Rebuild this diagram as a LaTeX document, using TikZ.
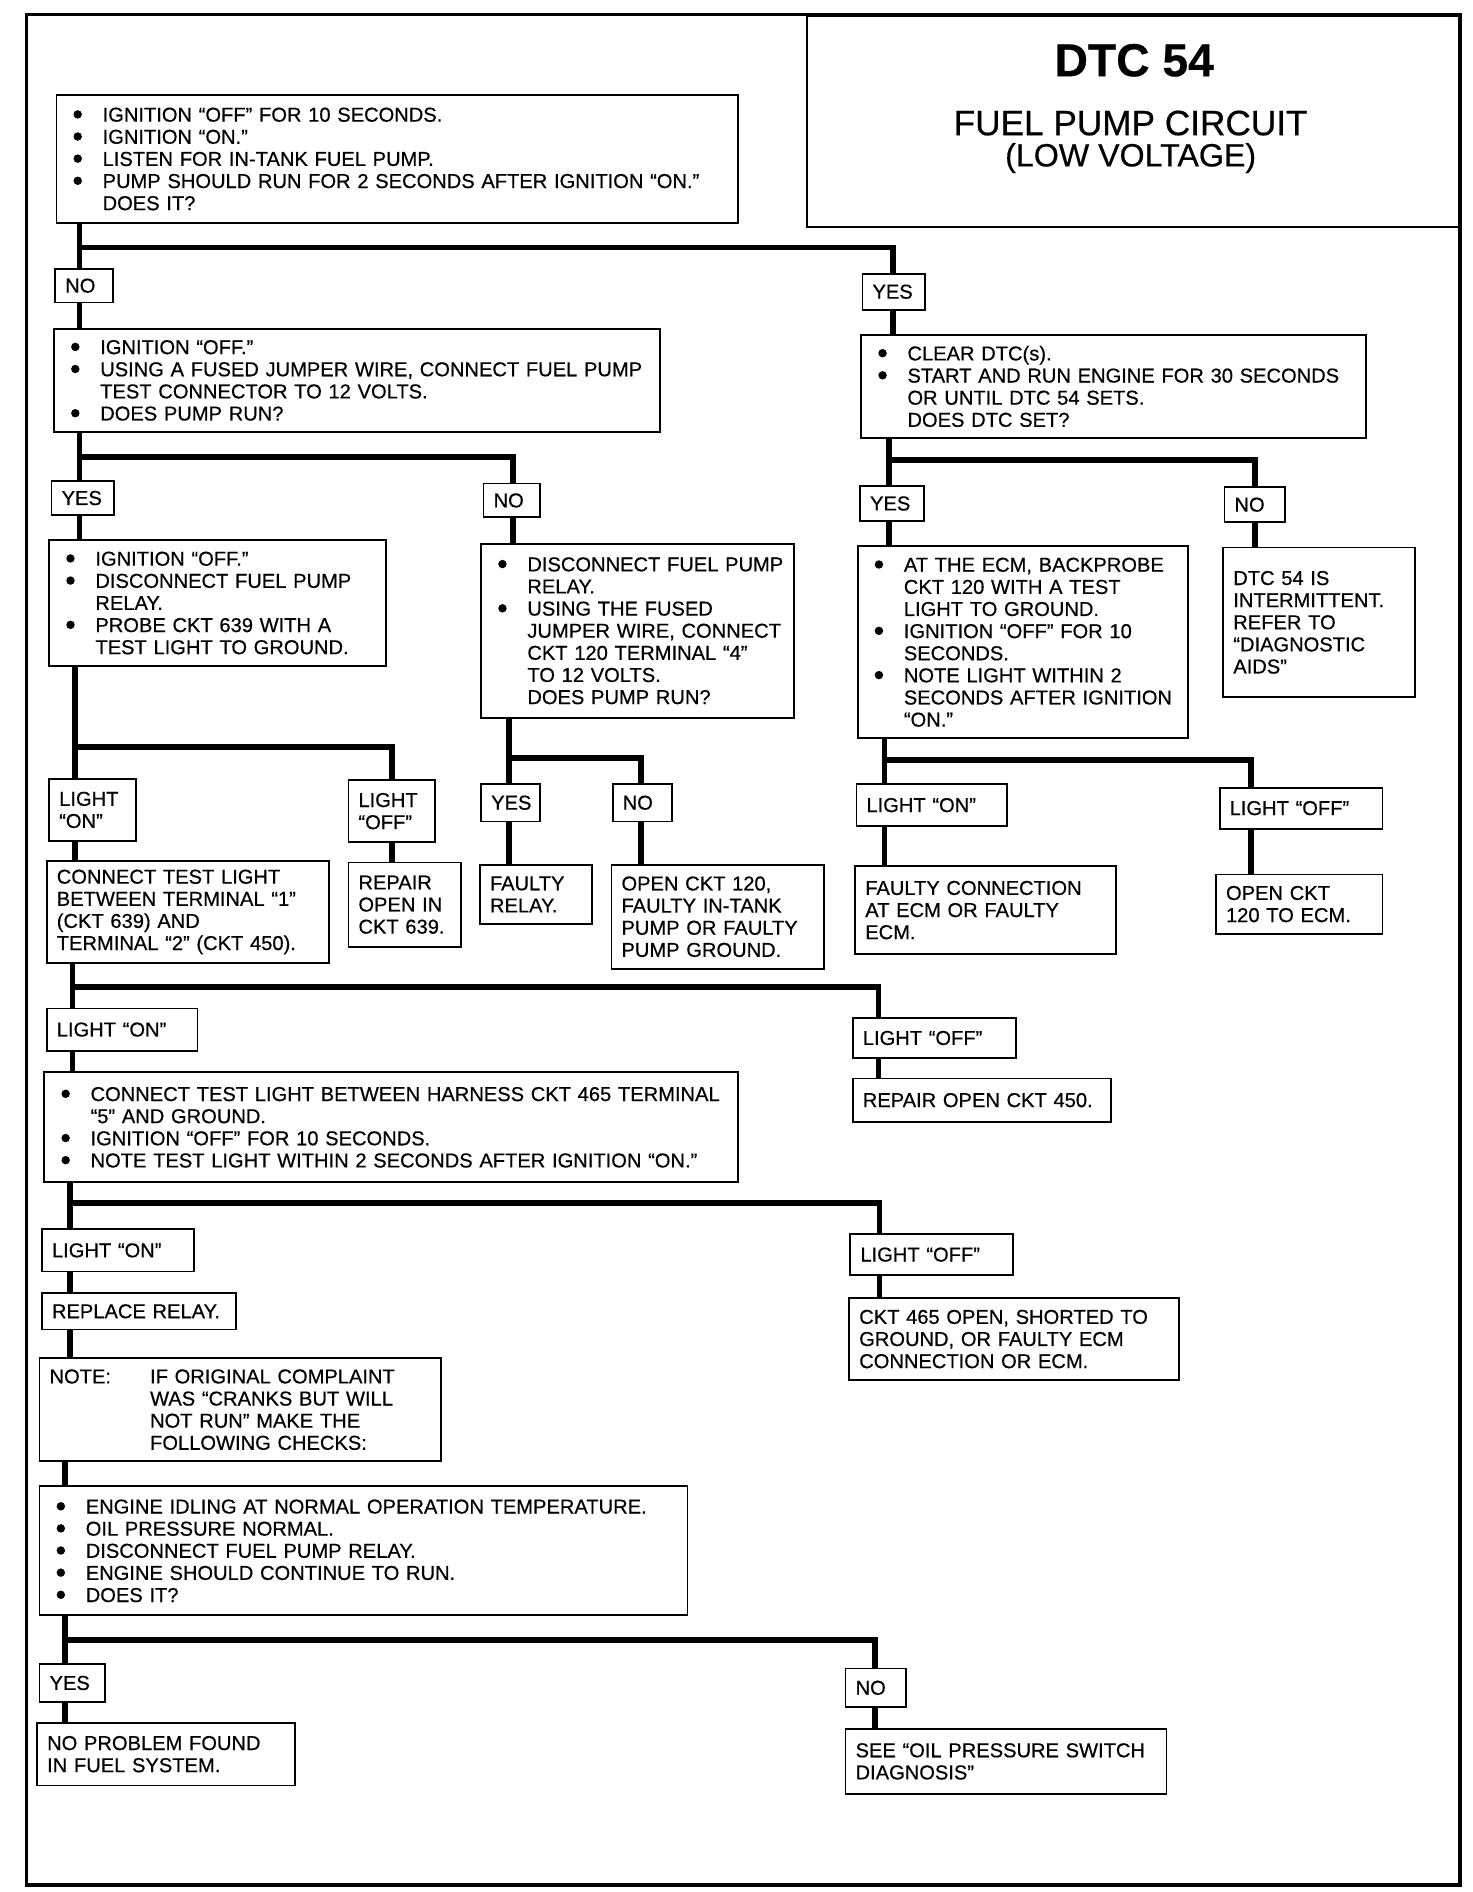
\documentclass[tikz,border=0pt]{standalone}
\usepackage{fontspec}
\setmainfont{Liberation Sans}[FakeBold=0.5]
\newcommand\bl{\makebox[18pt][l]{\hspace{3.5pt}\tikz[baseline=-3.6pt]\fill[black] (0,0) circle[radius=2.1pt];}}
\newcommand\ind{\hspace*{18pt}}
\newcommand\noteind{\hspace*{50pt}}
\begin{document}
\begin{tikzpicture}[x=0.6pt,y=-0.6pt,
  bx/.style 2 args={draw, line width=0.9pt, fill=white, anchor=north west,
    inner xsep=0pt, inner ysep=0pt, minimum width=#1*0.6pt, minimum height=#2*0.6pt,
    text width=#1*0.6pt-10pt, align=left, font=\fontsize{10}{11}\selectfont},
  conn/.style={line width=2.8pt, line join=miter}]
\useasboundingbox (0,0) rectangle (1220,1568);
% title
\node[draw, line width=1.2pt, anchor=north west, minimum width=542*0.6pt, minimum height=175*0.6pt, inner sep=0pt] (title) at (668,12) {};
\node[font=\bfseries\fontsize{23}{26}\selectfont] (t1) at (940,50) {DTC 54};
\node[font=\fontsize{17.5}{20}\selectfont] (t2) at (937,102) {FUEL PUMP CIRCUIT};
\node[font=\fontsize{16}{19}\selectfont] (t3) at (937,131) {(LOW VOLTAGE)};
\draw[line width=1.8pt] (22,12) rectangle (1210,1562);

% boxes
\node[bx={565}{106}] (b1) at (46,78) {\bl IGNITION “OFF” FOR 10 SECONDS.\\\bl IGNITION “ON.”\\\bl LISTEN FOR IN-TANK FUEL PUMP.\\\bl PUMP SHOULD RUN FOR 2 SECONDS AFTER IGNITION “ON.”\\\ind DOES IT?};
\node[bx={48}{28}] (no1) at (45,222) {NO};
\node[bx={52}{30}] (yes1) at (714,226) {YES};
\node[bx={502}{85}] (b2) at (44,272) {\bl IGNITION “OFF.”\\\bl USING A FUSED JUMPER WIRE, CONNECT FUEL PUMP\\\ind TEST CONNECTOR TO 12 VOLTS.\\\bl DOES PUMP RUN?};
\node[bx={418}{85}] (bR1) at (713,277) {\bl CLEAR DTC(s).\\\bl START AND RUN ENGINE FOR 30 SECONDS\\\ind OR UNTIL DTC 54 SETS.\\\ind DOES DTC SET?};

\node[bx={52}{28}] (yes2) at (42,398) {YES};
\node[bx={47}{28}] (no2) at (400,400) {NO};
\node[bx={279}{104}] (bL2) at (40,447) {\bl IGNITION “OFF.”\\\bl DISCONNECT FUEL PUMP\\\ind RELAY.\\\bl PROBE CKT 639 WITH A\\\ind TEST LIGHT TO GROUND.};
\node[bx={259}{144}] (bM2) at (398,450) {\bl DISCONNECT FUEL PUMP\\\ind RELAY.\\\bl USING THE FUSED\\\ind JUMPER WIRE, CONNECT\\\ind CKT 120 TERMINAL “4”\\\ind TO 12 VOLTS.\\\ind DOES PUMP RUN?};

\node[bx={53}{29}] (yes3) at (712,402) {YES};
\node[bx={50}{29}] (no3) at (1014,403) {NO};
\node[bx={274}{159}] (bR2) at (710,452) {\bl AT THE ECM, BACKPROBE\\\ind CKT 120 WITH A TEST\\\ind LIGHT TO GROUND.\\\bl IGNITION “OFF” FOR 10\\\ind SECONDS.\\\bl NOTE LIGHT WITHIN 2\\\ind SECONDS AFTER IGNITION\\\ind “ON.”};
\node[bx={159}{124}] (bR3) at (1013,453) {DTC 54 IS\\INTERMITTENT.\\REFER TO\\“DIAGNOSTIC\\AIDS”};

\node[bx={72}{51}] (lon1) at (40,645) {LIGHT\\“ON”};
\node[bx={72}{51}] (loff1) at (288,646) {LIGHT\\“OFF”};
\node[bx={234}{84}] (bL3) at (38,713) {CONNECT TEST LIGHT\\BETWEEN TERMINAL “1”\\(CKT 639) AND\\TERMINAL “2” (CKT 450).};
\node[bx={93}{70}] (bL3b) at (288,714) {REPAIR\\OPEN IN\\CKT 639.};

\node[bx={49}{31}] (yes4) at (398,649) {YES};
\node[bx={49}{31}] (no4) at (507,649) {NO};
\node[bx={93}{49}] (bFR) at (397,716) {FAULTY\\RELAY.};
\node[bx={176}{86}] (bOC) at (506,716) {OPEN CKT 120,\\FAULTY IN-TANK\\PUMP OR FAULTY\\PUMP GROUND.};

\node[bx={125}{35}] (lonR) at (709,649) {LIGHT “ON”};
\node[bx={135}{34}] (loffR) at (1010,652) {LIGHT “OFF”};
\node[bx={216}{73}] (bFC) at (708,717) {FAULTY CONNECTION\\AT ECM OR FAULTY\\ECM.};
\node[bx={138}{49}] (bOE) at (1007,724) {OPEN CKT\\120 TO ECM.};

\node[bx={125}{35}] (lon2) at (38,835) {LIGHT “ON”};
\node[bx={135}{33}] (loff2) at (706,843) {LIGHT “OFF”};
\node[bx={575}{91}] (bL4) at (36,888) {\bl CONNECT TEST LIGHT BETWEEN HARNESS CKT 465 TERMINAL\\\ind “5” AND GROUND.\\\bl IGNITION “OFF” FOR 10 SECONDS.\\\bl NOTE TEST LIGHT WITHIN 2 SECONDS AFTER IGNITION “ON.”};
\node[bx={214}{36}] (bR4) at (706,893) {REPAIR OPEN CKT 450.};

\node[bx={126}{35}] (lon3) at (34,1018) {LIGHT “ON”};
\node[bx={135}{34}] (loff3) at (704,1022) {LIGHT “OFF”};
\node[bx={161}{30}] (bRR) at (34,1071) {REPLACE RELAY.};
\node[bx={273}{68}] (bCK) at (703,1075) {CKT 465 OPEN, SHORTED TO\\GROUND, OR FAULTY ECM\\CONNECTION OR ECM.};
\node[bx={333}{85}] (bNT) at (32,1125) {\makebox[50pt][l]{NOTE:}IF ORIGINAL COMPLAINT\\\noteind WAS “CRANKS BUT WILL\\\noteind NOT RUN” MAKE THE\\\noteind FOLLOWING CHECKS:};
\node[bx={537}{107}] (bEN) at (32,1231) {\bl ENGINE IDLING AT NORMAL OPERATION TEMPERATURE.\\\bl OIL PRESSURE NORMAL.\\\bl DISCONNECT FUEL PUMP RELAY.\\\bl ENGINE SHOULD CONTINUE TO RUN.\\\bl DOES IT?};

\node[bx={54}{32}] (yes6) at (32,1378) {YES};
\node[bx={50}{32}] (no6) at (700,1382) {NO};
\node[bx={214}{52}] (bNP) at (30,1427) {NO PROBLEM FOUND\\IN FUEL SYSTEM.};
\node[bx={266}{54}] (bSE) at (700,1432) {SEE “OIL PRESSURE SWITCH\\DIAGNOSIS”};

% junctions
\coordinate (j1) at (66,205);   \coordinate (k1) at (740,205);
\coordinate (j2) at (66,379);   \coordinate (k2) at (425,379);
\coordinate (jR) at (737,381);  \coordinate (kR) at (1040,381);
\coordinate (j3) at (62,619);   \coordinate (k3) at (325,619);
\coordinate (jM) at (422,628);  \coordinate (kM) at (531,628);
\coordinate (jR2) at (733,630); \coordinate (kR2) at (1037,630);
\coordinate (j4) at (60,818);   \coordinate (k4) at (728,818);
\coordinate (j5) at (58,997);   \coordinate (k5) at (729,997);
\coordinate (j6) at (54,1359);  \coordinate (k6) at (725,1359);

% connectors
\draw[conn] (b1.south -| j1) -- (no1.north -| j1);
\draw[conn] (j1) -- (k1) -- (yes1.north -| k1);
\draw[conn] (no1.south -| j1) -- (b2.north -| j1);
\draw[conn] (yes1.south -| k1) -- (bR1.north -| k1);

\draw[conn] (b2.south -| j2) -- (yes2.north -| j2);
\draw[conn] (j2) -- (k2) -- (no2.north -| k2);
\draw[conn] (yes2.south -| j2) -- (bL2.north -| j2);
\draw[conn] (no2.south -| k2) -- (bM2.north -| k2);

\draw[conn] (bR1.south -| jR) -- (yes3.north -| jR);
\draw[conn] (jR) -- (kR) -- (no3.north -| kR);
\draw[conn] (yes3.south -| jR) -- (bR2.north -| jR);
\draw[conn] (no3.south -| kR) -- (bR3.north -| kR);

\draw[conn] (bL2.south -| j3) -- (lon1.north -| j3);
\draw[conn] (j3) -- (k3) -- (loff1.north -| k3);
\draw[conn] (lon1.south -| j3) -- (bL3.north -| j3);
\draw[conn] (loff1.south -| k3) -- (bL3b.north -| k3);

\draw[conn] (bM2.south -| jM) -- (yes4.north -| jM);
\draw[conn] (jM) -- (kM) -- (no4.north -| kM);
\draw[conn] (yes4.south -| jM) -- (bFR.north -| jM);
\draw[conn] (no4.south -| kM) -- (bOC.north -| kM);

\draw[conn] (bR2.south -| jR2) -- (lonR.north -| jR2);
\draw[conn] (jR2) -- (kR2) -- (loffR.north -| kR2);
\draw[conn] (lonR.south -| jR2) -- (bFC.north -| jR2);
\draw[conn] (loffR.south -| kR2) -- (bOE.north -| kR2);

\draw[conn] (bL3.south -| j4) -- (lon2.north -| j4);
\draw[conn] (j4) -- (k4) -- (loff2.north -| k4);
\draw[conn] (lon2.south -| j4) -- (bL4.north -| j4);
\draw[conn] (loff2.south -| k4) -- (bR4.north -| k4);

\draw[conn] (bL4.south -| j5) -- (lon3.north -| j5);
\draw[conn] (j5) -- (k5) -- (loff3.north -| k5);
\draw[conn] (lon3.south -| j5) -- (bRR.north -| j5);
\draw[conn] (loff3.south -| k5) -- (bCK.north -| k5);
\draw[conn] (bRR.south -| j5) -- (bNT.north -| j5);
\draw[conn] (bNT.south -| j6) -- (bEN.north -| j6);

\draw[conn] (bEN.south -| j6) -- (yes6.north -| j6);
\draw[conn] (j6) -- (k6) -- (no6.north -| k6);
\draw[conn] (yes6.south -| j6) -- (bNP.north -| j6);
\draw[conn] (no6.south -| k6) -- (bSE.north -| k6);
\end{tikzpicture}
\end{document}
